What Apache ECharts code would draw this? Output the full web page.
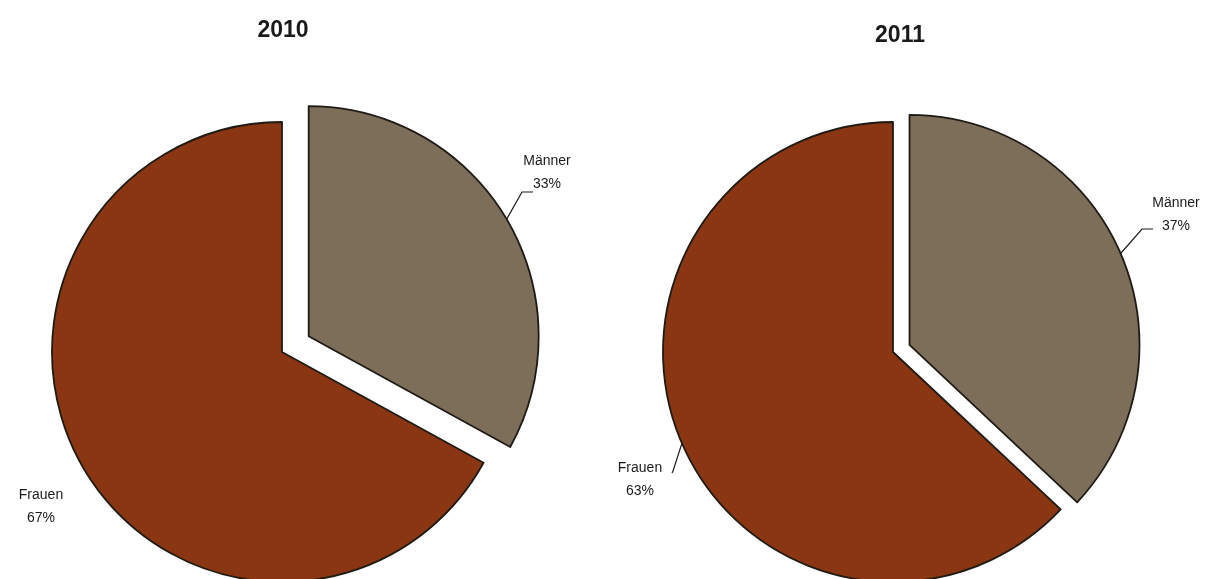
<!DOCTYPE html>
<html>
<head>
<meta charset="utf-8">
<script src="https://cdn.jsdelivr.net/npm/echarts@6/dist/echarts.min.js"></script>
<style>
  html, body { margin: 0; padding: 0; background: #fff; }
  #chart { width: 1212px; height: 579px; }
</style>
</head>
<body>
<div id="chart"></div>
<script>
// Daten
var years = ['2010', '2011']
var categories = ['Männer', 'Frauen']
var maenner = [33, 37]
var frauen = [67, 63]

// Layout je Diagramm
var pieCenters = [[282, 352], [893, 352]]
var pieRadius = 230
var titlePos = [[278, 14], [895, 19]]
var explode = [31, 18]
// Label-Mittelpunkte und Knick der Führungslinie: [Männer, Frauen]
var labelPos = [
  [{ c: [547, 173], knee: [522, 192], end: [533, 192] }, { c: [41, 507], knee: null, end: null }],
  [{ c: [1176, 215], knee: [1142, 229], end: [1153, 229] }, { c: [640, 480], knee: [673, 471], end: [672, 473] }]
]
var colors = ['#7d6e5a', '#8a3612']

var chart = echarts.init(document.getElementById('chart'))

var titles = []
var series = []

function hidden () {
  return {
    itemStyle: { color: 'rgba(0,0,0,0)', borderWidth: 0 },
    label: { show: false },
    labelLine: { show: false },
    tooltip: { show: false }
  }
}

years.forEach(function (year, i) {
  var values = [maenner[i], frauen[i]]
  var total = values[0] + values[1]
  // Männer-Segment herausgerückt (Mitte des Segments)
  var mid = values[0] / total * Math.PI
  var shift = [explode[i] * Math.sin(mid), -explode[i] * Math.cos(mid)]

  titles.push({
    text: year,
    left: titlePos[i][0],
    top: titlePos[i][1],
    textAlign: 'center',
    textStyle: {
      fontFamily: 'Liberation Sans',
      fontSize: 23,
      fontWeight: 'bold',
      color: '#1a1a1a'
    }
  })

  // je Kategorie eine Ebene, damit das Männer-Segment versetzt ist
  categories.forEach(function (cat, k) {
    var center = k === 0
      ? [pieCenters[i][0] + shift[0], pieCenters[i][1] + shift[1]]
      : pieCenters[i]
    var data = categories.map(function (name, j) {
      if (j !== k) return Object.assign({ name: name, value: values[j] }, hidden())
      return {
        name: name,
        value: values[j],
        itemStyle: { color: colors[j] },
        labelLine: { show: labelPos[i][j].knee != null }
      }
    })
    series.push({
      type: 'pie',
      name: year + ' ' + cat,
      center: center,
      radius: pieRadius,
      startAngle: 90,
      clockwise: true,
      animation: false,
      silent: true,
      emphasis: { disabled: true },
      itemStyle: {
        borderColor: '#1e1a14',
        borderWidth: 1.8
      },
      label: {
        show: true,
        formatter: '{b}\n{c}%',
        fontFamily: 'Liberation Sans',
        fontSize: 14,
        lineHeight: 23,
        color: '#1a1a1a',
        overflow: 'none'
      },
      labelLine: {
        show: true,
        lineStyle: { color: '#1a1a1a', width: 1.2 }
      },
      labelLayout: function (params) {
        var p = labelPos[i][params.dataIndex]
        var out = { x: p.c[0], y: p.c[1], align: 'center', verticalAlign: 'middle' }
        if (p.knee && params.labelLinePoints) {
          out.labelLinePoints = [params.labelLinePoints[0].slice(), p.knee, p.end]
        }
        return out
      },
      data: data
    })
  })
})

chart.setOption({
  backgroundColor: '#ffffff',
  title: titles,
  tooltip: { show: false },
  series: series
})
</script>
</body>
</html>
